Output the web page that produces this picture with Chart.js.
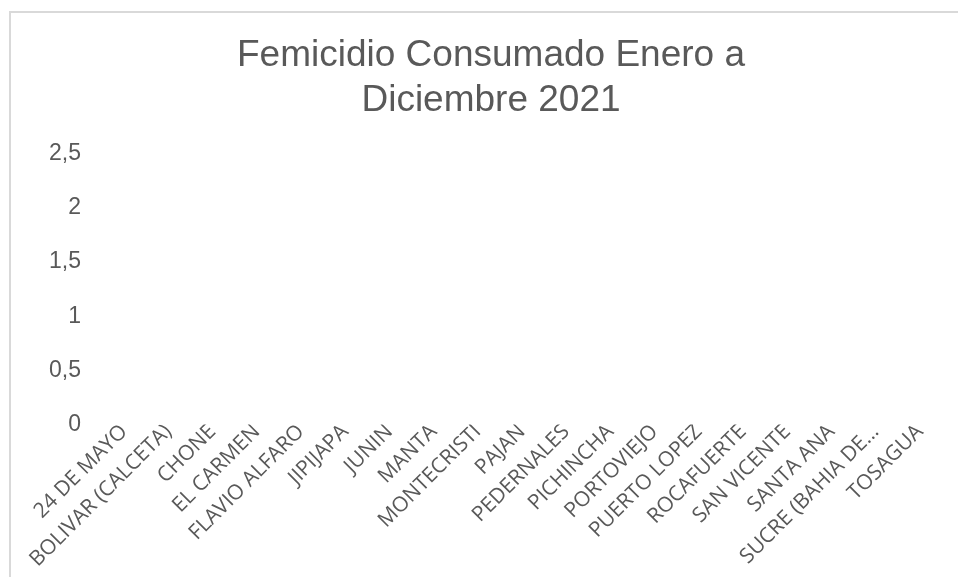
<!DOCTYPE html>
<html>
<head>
<meta charset="utf-8">
<script src="https://cdn.jsdelivr.net/npm/chart.js@4/dist/chart.umd.min.js"></script>
<style>
  html, body { margin: 0; padding: 0; background: #fff; overflow: hidden; }
  #frame {
    position: absolute;
    left: 9px;
    top: 11px;
    width: 960px;
    height: 570px;
    border-left: 2px solid #d9d9d9;
    border-top: 2px solid #d9d9d9;
  }
</style>
</head>
<body>
<div id="frame"><canvas id="femicidioChart"></canvas></div>
<script>
// datos del grafico
const titleLines = ['Femicidio Consumado Enero a', 'Diciembre 2021'];

const cantones = [
    '24 DE MAYO', 'BOLIVAR (CALCETA)', 'CHONE', 'EL CARMEN', 'FLAVIO ALFARO',
    'JIPIJAPA', 'JUNIN', 'MANTA', 'MONTECRISTI', 'PAJAN', 'PEDERNALES',
    'PICHINCHA', 'PORTOVIEJO', 'PUERTO LOPEZ', 'ROCAFUERTE', 'SAN VICENTE',
    'SANTA ANA', 'SUCRE (BAHIA DE…', 'TOSAGUA'
];

// no se registran casos: todas las barras en cero
const casos = [0, 0, 0, 0, 0, 0, 0, 0, 0, 0, 0, 0, 0, 0, 0, 0, 0, 0, 0];

const yTickValues = [0, 0.5, 1, 1.5, 2, 2.5];
const yTickLabels = ['0', '0,5', '1', '1,5', '2', '2,5'];

const textColor = '#595959';

const ctx = document.getElementById('femicidioChart').getContext('2d');

new Chart(ctx, {
    type: 'bar',
    data: {
        labels: cantones,
        datasets: [{
            label: 'Femicidio Consumado',
            data: casos,
            backgroundColor: '#4472c4'
        }]
    },
    options: {
        responsive: true,
        maintainAspectRatio: false,
        animation: false,
        layout: {
            padding: { left: 29, right: 29, top: 0, bottom: 16 }
        },
        plugins: {
            legend: { display: false },
            tooltip: { enabled: false },
            title: {
                display: true,
                text: titleLines,
                color: textColor,
                font: { family: 'Liberation Sans, Arial, sans-serif', size: 37, weight: 'normal', lineHeight: 1.2 },
                padding: { top: 21, bottom: 31 }
            }
        },
        scales: {
            x: {
                grid: { display: false, drawTicks: false },
                border: { display: false },
                ticks: {
                    autoSkip: false,
                    maxRotation: 45,
                    minRotation: 45,
                    padding: -5,
                    color: textColor,
                    font: { family: 'Open Sans, sans-serif', size: 21 }
                }
            },
            y: {
                min: 0,
                max: 2.5,
                grid: { display: false, drawTicks: false },
                border: { display: false },
                afterBuildTicks: axis => {
                    axis.ticks = yTickValues.map(v => ({ value: v }));
                },
                // eje un poco mas angosto para que el titulo quede centrado
                afterFit: axis => {
                    axis.width -= 12;
                },
                ticks: {
                    padding: 21,
                    color: textColor,
                    font: { family: 'Liberation Sans, Arial, sans-serif', size: 23 },
                    callback: value => {
                        const i = yTickValues.indexOf(value);
                        return i >= 0 ? yTickLabels[i] : '';
                    }
                }
            }
        }
    }
});
</script>
</body>
</html>
